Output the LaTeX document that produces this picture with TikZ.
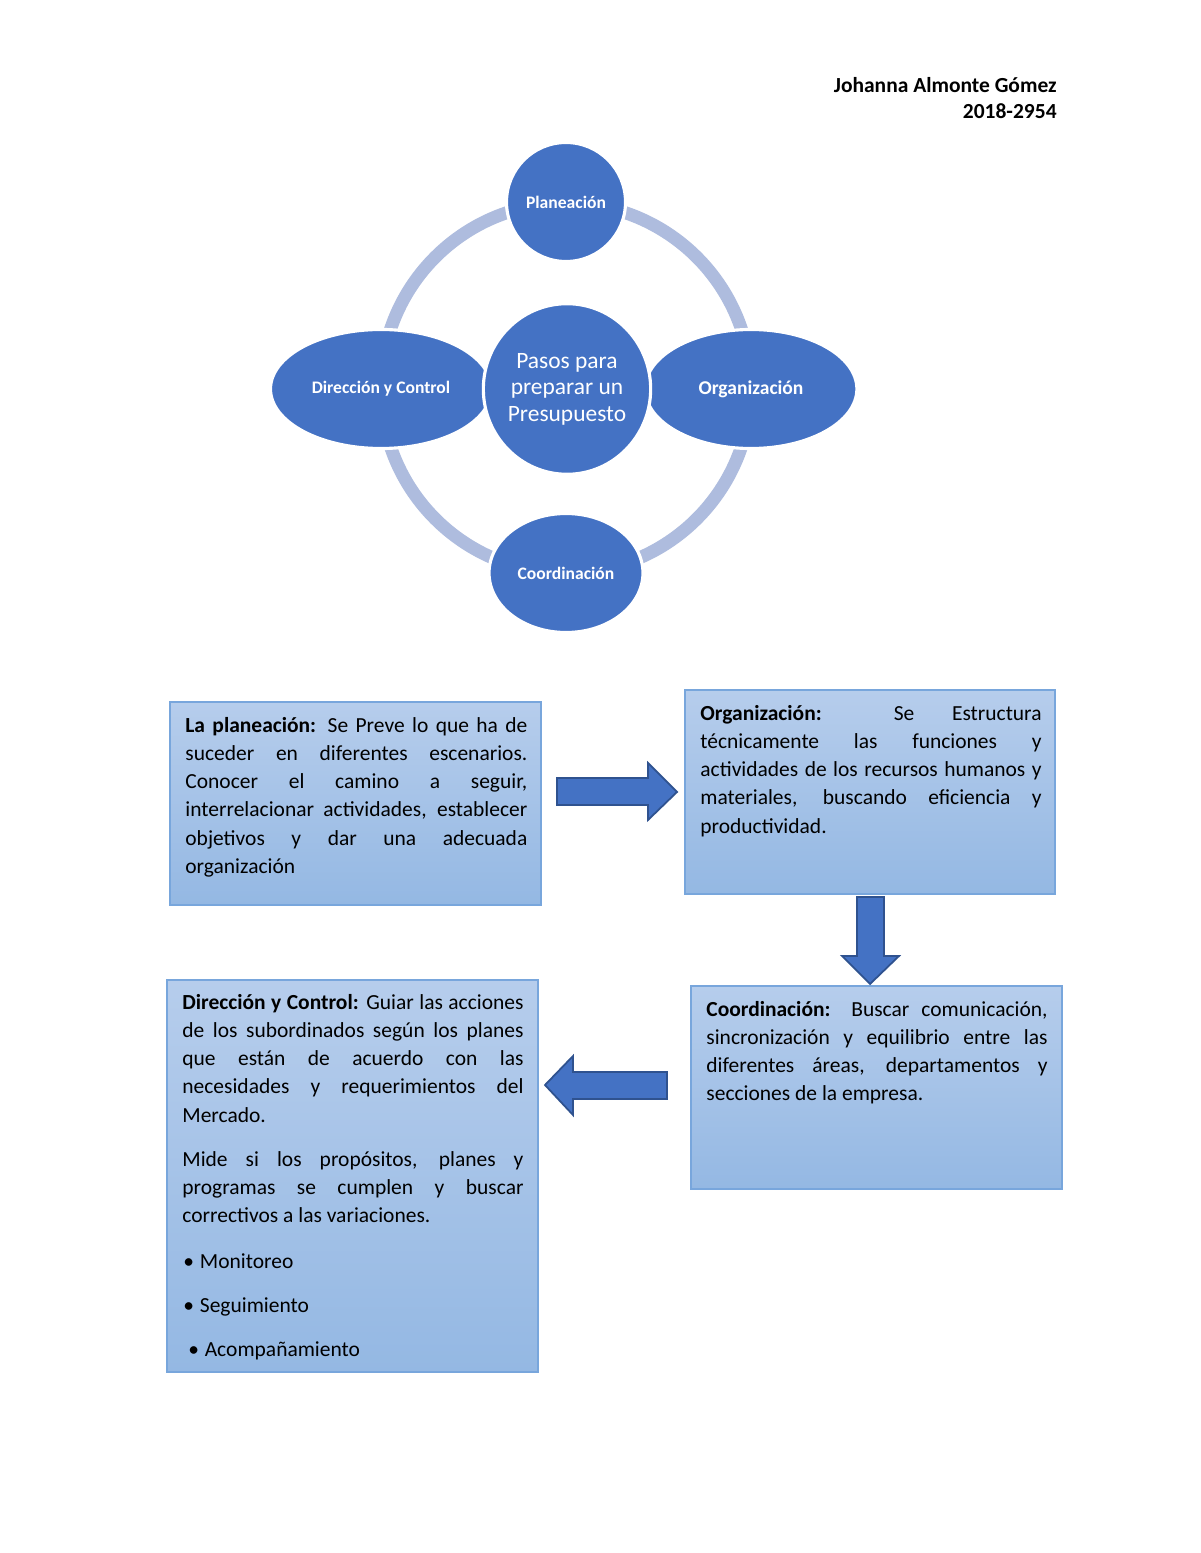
\documentclass[tikz,border=0pt]{standalone}
\usepackage{fontspec}
\setmainfont{Carlito}
\usetikzlibrary{shapes.geometric}
\definecolor{nodeblue}{RGB}{68,114,196}
\definecolor{arrowedge}{RGB}{47,82,143}
\definecolor{ringblue}{RGB}{174,188,222}
\definecolor{boxtop}{RGB}{182,205,236}
\definecolor{boxbot}{RGB}{148,184,227}
\definecolor{boxedge}{RGB}{120,166,220}
\newcommand{\jline}[1]{\makebox[\linewidth][s]{#1}}
\newcommand{\boxfont}{\fontsize{11}{14.5}\selectfont}
\begin{document}
\begin{tikzpicture}[x=0.51bp,y=-0.51bp,
  blob/.style={fill=nodeblue, draw=white, line width=1.6bp, text=white, inner sep=0pt},
  roundblob/.style={blob, ellipse},
  infobox/.style={rectangle, draw=boxedge, line width=0.9bp, top color=boxtop, bottom color=boxbot, inner sep=0pt},
  boxtext/.style={anchor=base west, inner sep=0pt, text=black},
  blockarrow/.style={fill=nodeblue, draw=arrowedge, line width=0.9bp, line join=miter},
  ring/.style={draw=ringblue, line width=6.6bp}
]
\useasboundingbox (0,0) rectangle (1200,1553);
\fill[white] (0,0) rectangle (1200,1553);

% header
\node[anchor=base east, inner sep=0pt, font=\bfseries\fontsize{11}{13}\selectfont] (author) at (1057,93) {Johanna Almonte Gómez};
\node[anchor=base east, inner sep=0pt, font=\bfseries\fontsize{11}{13}\selectfont] (idnum) at (1057,119) {2018-2954};

% ring
\draw[ring] (566,388) circle[radius=185];

% cycle nodes
\node[roundblob, minimum width=60.7bp, minimum height=60.7bp, font=\bfseries\fontsize{9}{10}\selectfont] (plan) at (566,202) {Planeación};
\node[roundblob, minimum width=112.7bp, minimum height=60.7bp, font=\bfseries\fontsize{9}{10}\selectfont] (dir) at (381,389) {Dirección y Control};
\node[roundblob, minimum width=108bp, minimum height=60.7bp, font=\bfseries\fontsize{10}{11}\selectfont] (org) at (751,389) {Organización};
\node[roundblob, minimum width=78.5bp, minimum height=60.7bp, font=\bfseries\fontsize{9}{10}\selectfont] (coord) at (566,573) {Coordinación};
\node[roundblob, minimum width=84bp, minimum height=87bp, align=center, font=\fontsize{12}{13.5}\selectfont] (center) at (567,389) {Pasos para\\preparar un\\Presupuesto};

% boxes
\node[infobox, minimum width=189.2bp, minimum height=103.5bp] (b1) at (355.5,803.5) {};
\node[infobox, minimum width=188.7bp, minimum height=104bp] (b2) at (870,792) {};
\node[infobox, minimum width=189.2bp, minimum height=103.5bp] (b3) at (876.5,1087.5) {};
\node[infobox, minimum width=189.2bp, minimum height=200bp] (b4) at (352.5,1176) {};

\node[boxtext] (t1) at (185,732) {\parbox[t]{174.4bp}{\boxfont
\jline{\textbf{La planeación:} Se Preve lo que ha de}\\
\jline{suceder en diferentes escenarios.}\\
\jline{Conocer el camino a seguir,}\\
\jline{interrelacionar actividades, establecer}\\
\jline{objetivos y dar una adecuada}\\
organización}};

\node[boxtext] (t2) at (700,720) {\parbox[t]{174bp}{\boxfont
\jline{\textbf{Organización:} Se Estructura}\\
\jline{técnicamente las funciones y}\\
\jline{actividades de los recursos humanos y}\\
\jline{materiales, buscando eficiencia y}\\
productividad.}};

\node[boxtext] (t3) at (706,1016) {\parbox[t]{174bp}{\boxfont
\jline{\textbf{Coordinación:} Buscar comunicación,}\\
\jline{sincronización y equilibrio entre las}\\
\jline{diferentes áreas, departamentos y}\\
secciones de la empresa.}};

\node[boxtext] (t4) at (182,1009) {\parbox[t]{174bp}{\boxfont
\jline{\textbf{Dirección y Control:} Guiar las acciones}\\
\jline{de los subordinados según los planes}\\
\jline{que están de acuerdo con las}\\
\jline{necesidades y requerimientos del}\\
Mercado.\\[8pt]
\jline{Mide si los propósitos, planes y}\\
\jline{programas se cumplen y buscar}\\
correctivos a las variaciones.\\[9pt]
\hspace*{0.5pt}•\hspace{3pt}Monitoreo\\[8pt]
\hspace*{0.5pt}•\hspace{3pt}Seguimiento\\[8pt]
\hspace*{3pt}•\hspace{3pt}Acompañamiento}};

% block arrows
\draw[blockarrow] (557,778) -- (648,778) -- (648,763) -- (677,792) -- (648,820) -- (648,805) -- (557,805) -- cycle;
\draw[blockarrow] (857,897) -- (884,897) -- (884,956) -- (899,956) -- (870,984) -- (842,956) -- (857,956) -- cycle;
\draw[blockarrow] (667,1072) -- (573,1072) -- (573,1056) -- (545,1085) -- (573,1115) -- (573,1099) -- (667,1099) -- cycle;
\end{tikzpicture}
\end{document}
